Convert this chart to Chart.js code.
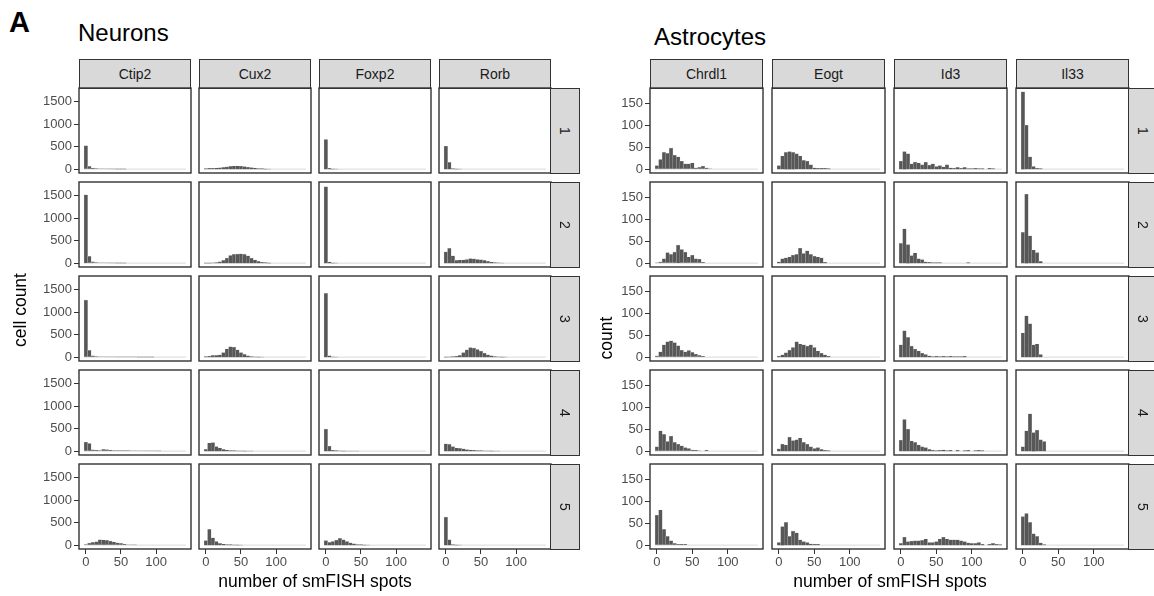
<!DOCTYPE html>
<html>
<head>
<meta charset="utf-8">
<script src="https://cdn.jsdelivr.net/npm/chart.js@4.4.0/dist/chart.umd.min.js"></script>
<style>
  body { margin: 0; background: #fff; width: 1154px; height: 596px; overflow: hidden; position: relative;
         font-family: "Liberation Sans", Arial, sans-serif; }
  canvas { position: absolute; }
  .strip { position: absolute; box-sizing: border-box; background: #d9d9d9; border: 1px solid #333;
           color: #1a1a1a; font-size: 14px; display: flex; align-items: center; justify-content: center; }
  .strip.side span { display: inline-block; transform: rotate(90deg); }
  .txt { position: absolute; white-space: nowrap; color: #000; }
</style>
</head>
<body>
<script>
// ** Data **

// histogram bins: 5 spots wide, centred on 0, 5, ... 140
let binCenters = [0, 5, 10, 15, 20, 25, 30, 35, 40, 45, 50, 55, 60, 65, 70, 75, 80, 85, 90, 95, 100, 105, 110, 115, 120, 125, 130, 135, 140];
let layers = ['1', '2', '3', '4', '5'];
let neuronGenes = ['Ctip2', 'Cux2', 'Foxp2', 'Rorb'];
let astroGenes = ['Chrdl1', 'Eogt', 'Id3', 'Il33'];
let xTicks = [0, 50, 100];
let neuronYTicks = [0, 500, 1000, 1500];
let astroYTicks = [0, 50, 100, 150];

// cell counts per bin, one row per layer 1..5
let ctip2Counts = [
  [520, 60, 22, 15, 10, 8, 6, 4, 3, 2, 2, 1],
  [1520, 150, 30, 15, 10, 8, 5, 4, 3, 2, 2, 1],
  [1270, 150, 30, 15, 10, 8, 6, 5, 5, 4, 4, 3, 3, 3, 3, 2, 2, 2, 2, 1],
  [200, 170, 30, 20, 15, 40, 35, 20, 15, 15, 15, 12, 12, 10, 10, 8, 8, 6, 5, 5, 4, 4],
  [15, 45, 60, 75, 120, 115, 105, 90, 70, 50, 40, 20, 8, 5, 3]
];
let cux2Counts = [
  [15, 20, 20, 25, 30, 40, 50, 60, 70, 70, 65, 55, 45, 35, 25, 15, 10, 5, 3],
  [5, 5, 8, 15, 30, 60, 110, 170, 195, 200, 205, 195, 160, 110, 70, 40, 20, 10, 5],
  [10, 20, 40, 40, 50, 100, 180, 230, 220, 160, 100, 60, 30, 15, 8, 5, 3],
  [40, 180, 190, 100, 70, 40, 25, 15, 10, 8, 6, 5, 4, 3],
  [100, 350, 160, 80, 40, 25, 15, 10, 8, 5, 3]
];
let foxp2Counts = [
  [660, 20, 5, 2],
  [1700, 25, 5, 2],
  [1420, 30, 6, 2],
  [490, 110, 20, 10, 8, 5, 4, 3, 2, 2],
  [100, 60, 80, 110, 150, 120, 80, 50, 30, 15, 10, 5, 3]
];
let rorbCounts = [
  [510, 150, 15, 5, 2],
  [250, 330, 160, 60, 70, 70, 80, 100, 95, 80, 75, 60, 40, 25, 15, 8, 4],
  [5, 8, 10, 20, 40, 100, 160, 210, 200, 170, 130, 90, 50, 30, 15, 8, 5, 3],
  [160, 150, 100, 70, 60, 50, 35, 25, 20, 15, 10, 8, 6, 5, 4, 2],
  [620, 120, 15, 5, 2]
];
let chrdl1Counts = [
  [8, 22, 38, 36, 48, 32, 28, 18, 12, 12, 14, 3, 4, 7, 3, 1],
  [1, 3, 10, 24, 20, 25, 41, 31, 25, 14, 18, 10, 9, 2],
  [3, 12, 28, 35, 37, 33, 26, 16, 12, 15, 11, 7, 4, 2],
  [10, 46, 38, 22, 34, 20, 16, 12, 8, 6, 3, 2, 1, 0, 2],
  [68, 80, 36, 20, 10, 4, 2, 2, 2]
];
let eogtCounts = [
  [8, 30, 38, 40, 38, 35, 30, 20, 18, 10, 3, 2, 2, 2, 1],
  [3, 10, 12, 14, 18, 20, 34, 22, 28, 20, 16, 14, 12, 2],
  [2, 5, 10, 16, 22, 35, 30, 28, 25, 28, 22, 14, 9, 5, 2],
  [5, 16, 14, 32, 24, 26, 30, 20, 16, 10, 6, 8, 4, 2, 1],
  [6, 42, 52, 20, 32, 28, 12, 8, 6, 3, 2, 2]
];
let id3Counts = [
  [18, 40, 35, 12, 16, 14, 10, 16, 9, 12, 6, 8, 5, 10, 3, 2, 4, 2, 4, 1, 1, 2, 1, 1, 0, 2, 1],
  [45, 78, 42, 17, 23, 10, 8, 3, 2, 1, 1, 1, 0, 0, 0, 0, 0, 0, 0, 1],
  [28, 60, 45, 25, 18, 14, 9, 6, 3, 1, 2, 1, 2, 1, 2, 1, 1, 1, 2],
  [25, 72, 50, 23, 20, 14, 10, 8, 4, 2, 1, 2, 3, 1, 2, 0, 2, 0, 1, 2, 0, 1, 2, 1],
  [4, 18, 8, 9, 10, 10, 11, 14, 6, 6, 8, 14, 18, 14, 12, 12, 12, 10, 8, 5, 4, 4, 6, 2, 0, 2, 4, 2, 1]
];
let il33Counts = [
  [176, 100, 28, 6, 2, 1],
  [70, 157, 62, 30, 24, 4],
  [55, 94, 76, 28, 30, 6],
  [10, 46, 85, 42, 48, 26, 22],
  [65, 72, 52, 26, 20, 5, 1]
];

// ** Layout **
let rowTop = [88, 182, 276, 370, 464];
let panelH = 85;
let neuronLeft = [79, 199, 319, 439];
let neuronW = 112;
let astroLeft = [650, 772, 894, 1016];
let astroW = 113;
let padL = 48, padB = 24, padT = 2, padR = 2;

Chart.defaults.font.family = '"Liberation Sans", Arial, sans-serif';

// panel frame drawn on top of the bars
let panelBorder = {
  id: 'panelBorder',
  afterDatasetsDraw(chart) {
    let a = chart.chartArea;
    let ctx = chart.ctx;
    ctx.save();
    ctx.strokeStyle = '#333333';
    ctx.lineWidth = 1.4;
    ctx.strokeRect(a.left, a.top, a.right - a.left, a.bottom - a.top);
    ctx.restore();
  }
};

function addDiv(cls, text, style) {
  let d = document.createElement('div');
  d.className = cls;
  if (cls.indexOf('side') >= 0) {
    let s = document.createElement('span');
    s.textContent = text;
    d.appendChild(s);
  } else {
    d.textContent = text;
  }
  Object.assign(d.style, style);
  document.body.appendChild(d);
  return d;
}

function makePanel(left, top, width, counts, yMin, yMax, yTicks, showY, showX) {
  let canvas = document.createElement('canvas');
  canvas.width = padL + width + padR;
  canvas.height = padT + panelH + padB;
  canvas.style.left = (left - padL) + 'px';
  canvas.style.top = (top - padT) + 'px';
  document.body.appendChild(canvas);

  let bars = binCenters.map((x, i) => ({ x: x, y: counts[i] || 0 }));

  new Chart(canvas, {
    type: 'bar',
    data: {
      datasets: [
        {
          type: 'bar',
          data: bars,
          backgroundColor: '#575757',
          borderColor: '#b8b8b8',
          borderWidth: 0.4,
          categoryPercentage: 1,
          barPercentage: 1,
          order: 1
        },
        {
          type: 'line',
          data: [{ x: -2.5, y: 0 }, { x: 142.5, y: 0 }],
          borderColor: '#d9d9d9',
          borderWidth: 1,
          pointRadius: 0,
          order: 2
        }
      ]
    },
    options: {
      responsive: false,
      animation: false,
      devicePixelRatio: 1,
      layout: { padding: { top: padT, right: padR, left: 0, bottom: 0 } },
      plugins: { legend: { display: false }, tooltip: { enabled: false } },
      scales: {
        x: {
          type: 'linear',
          offset: false,
          min: -9.75,
          max: 149.75,
          afterBuildTicks: s => { s.ticks = xTicks.map(v => ({ value: v })); },
          afterFit: s => { s.height = padB; s.paddingLeft = 0; s.paddingRight = 0; },
          grid: { display: showX, offset: false, drawOnChartArea: false, drawTicks: true, tickLength: 5, color: '#333333' },
          border: { display: false },
          ticks: { display: showX, color: '#4d4d4d', font: { size: 13 }, padding: 1, maxRotation: 0, autoSkip: false,
                   callback: v => String(v) }
        },
        y: {
          min: yMin,
          max: yMax,
          afterBuildTicks: s => { s.ticks = yTicks.map(v => ({ value: v })); },
          afterFit: s => { s.width = padL; s.paddingTop = 0; s.paddingBottom = 0; },
          grid: { display: showY, drawOnChartArea: false, drawTicks: true, tickLength: 5, color: '#333333' },
          border: { display: false },
          ticks: { display: showY, color: '#4d4d4d', font: { size: 13 }, padding: 2, autoSkip: false,
                   callback: v => String(v) }
        }
      }
    },
    plugins: [panelBorder]
  });
}

function makeGroup(genes, countSets, lefts, width, yMin, yMax, yTicks) {
  for (let c = 0; c < genes.length; c++) {
    addDiv('strip', genes[c], { left: lefts[c] + 'px', top: '59px', width: width + 'px', height: '30px' });
    for (let r = 0; r < layers.length; r++) {
      makePanel(lefts[c], rowTop[r], width, countSets[c][r], yMin, yMax, yTicks, c === 0, r === layers.length - 1);
    }
  }
  let stripLeft = lefts[lefts.length - 1] + width - 1;
  for (let r = 0; r < layers.length; r++) {
    addDiv('strip side', layers[r], { left: stripLeft + 'px', top: rowTop[r] + 'px', width: '30px', height: (panelH + 1) + 'px' });
  }
}

//Executable Code

makeGroup(neuronGenes, [ctip2Counts, cux2Counts, foxp2Counts, rorbCounts], neuronLeft, neuronW, -86, 1806, neuronYTicks);
makeGroup(astroGenes, [chrdl1Counts, eogtCounts, id3Counts, il33Counts], astroLeft, astroW, -8.8, 184.8, astroYTicks);

// titles and axis labels
addDiv('txt', 'A', { left: '9px', top: '6px', fontSize: '29px', fontWeight: 'bold' });
addDiv('txt', 'Neurons', { left: '78px', top: '19px', fontSize: '24px' });
addDiv('txt', 'Astrocytes', { left: '654px', top: '23px', fontSize: '24px' });
addDiv('txt', 'number of smFISH spots', { left: '315px', top: '571px', fontSize: '17.5px', transform: 'translateX(-50%)' });
addDiv('txt', 'number of smFISH spots', { left: '890px', top: '571px', fontSize: '17.5px', transform: 'translateX(-50%)' });
addDiv('txt', 'cell count', { left: '20px', top: '310px', fontSize: '17.5px', transform: 'translate(-50%, -50%) rotate(-90deg)' });
addDiv('txt', 'count', { left: '606px', top: '338px', fontSize: '17.5px', transform: 'translate(-50%, -50%) rotate(-90deg)' });
</script>
</body>
</html>
